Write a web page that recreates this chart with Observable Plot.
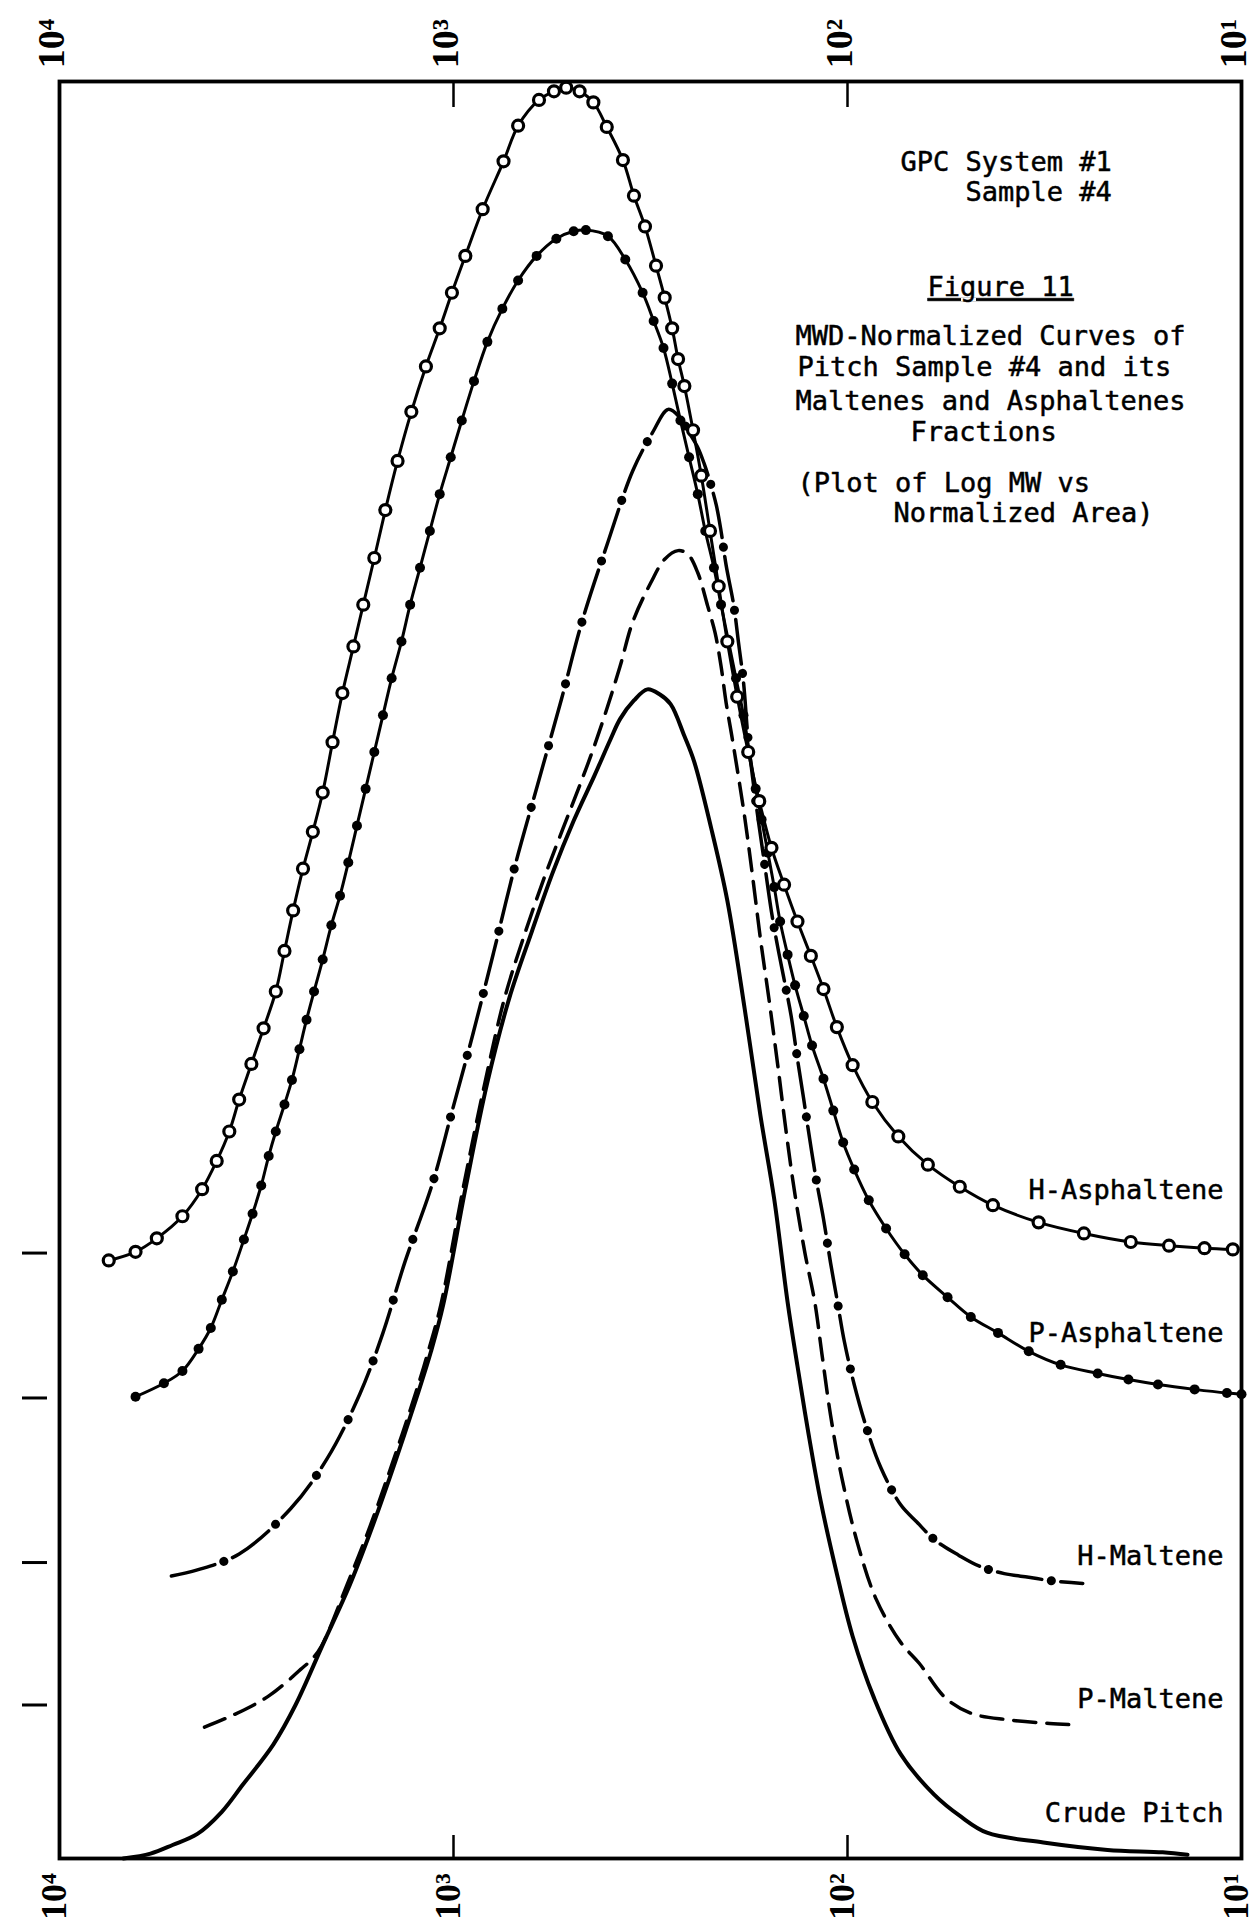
<!DOCTYPE html>
<html>
<head>
<meta charset="utf-8">
<script src="https://cdn.jsdelivr.net/npm/d3@7"></script>
<script src="https://cdn.jsdelivr.net/npm/@observablehq/plot@0.6"></script>
<style>
  html, body { margin: 0; padding: 0; background: #fff; }
</style>
</head>
<body>
<div id="chart"></div>
<script>
// ---- tick values / labels ----
const decades = [1e4, 1e3, 1e2, 1e1];
const decadeLabels = ["10\u2074", "10\u00b3", "10\u00b2", "10\u00b9"];
const innerTicks = [1e3, 1e2];

// ---- series (log10 MW, stacked normalized area) ----
const hAsphLogMW = [3.875,3.807,3.753,3.688,3.638,3.601,3.569,3.544,3.513,3.482,
  3.451,3.429,3.407,3.382,3.357,3.332,3.307,3.282,3.254,3.229,
  3.201,3.173,3.142,3.107,3.070,3.035,3.004,2.970,2.926,2.873,
  2.836,2.783,2.745,2.714,2.680,2.645,2.611,2.570,2.542,2.514,
  2.486,2.464,2.445,2.430,2.414,2.392,2.371,2.349,2.327,2.305,
  2.280,2.252,2.224,2.193,2.161,2.127,2.093,2.061,2.027,1.987,
  1.937,1.871,1.796,1.715,1.631,1.515,1.400,1.281,1.184,1.094,1.022];
const hAsphArea = [48.7,49.4,50.5,52.3,54.5,56.8,59.2,61.8,64.7,67.6,
  70.6,73.9,77.2,80.6,83.6,86.8,90.9,94.9,98.7,102.1,
  105.9,109.8,113.8,117.8,121.5,124.6,127.5,130.5,134.3,138.2,
  141.1,143.2,143.9,144.2,143.9,143.0,141.0,138.3,135.4,132.9,
  129.7,127.1,124.6,122.1,119.9,116.3,112.6,108.1,103.6,99.1,
  94.6,90.1,86.1,82.3,79.3,76.3,73.5,70.8,67.7,64.6,
  61.6,58.8,56.5,54.7,53.2,51.8,50.9,50.2,49.9,49.7,49.6];

const pAsphLogMW = [3.807,3.735,3.688,
  3.647,3.616,3.588,3.560,3.532,3.510,3.488,3.469,3.451,3.429,
  3.410,3.391,3.373,3.354,3.332,3.310,3.288,3.267,3.245,3.223,
  3.201,3.179,3.157,3.132,3.110,3.085,3.060,3.035,3.007,2.979,
  2.948,2.914,2.876,2.836,2.789,2.739,2.695,2.664,
  2.608,2.564,2.520,2.492,2.467,2.445,2.424,2.402,2.380,2.361,
  2.339,2.321,2.302,2.283,2.264,2.249,2.233,2.218,2.202,2.186,
  2.171,2.152,2.133,2.111,2.090,2.061,2.036,2.011,1.983,1.946,
  1.902,1.855,1.809,1.746,1.687,1.618,1.540,1.459,1.365,1.287,
  1.212,1.119,1.037,1.000];
const pAsphArea = [37.6,38.7,39.7,
  41.5,43.2,45.5,47.8,50.4,52.5,54.8,57.2,59.2,61.4,
  63.4,65.9,68.3,70.6,73.2,76.0,78.4,81.1,84.1,87.1,
  90.1,93.1,96.1,99.1,102.1,105.1,108.1,111.1,114.1,117.1,
  120.3,123.5,126.2,128.5,130.5,131.9,132.5,132.6,
  132.1,130.2,127.5,125.2,123.0,120.1,117.1,114.1,111.1,108.1,
  105.1,102.1,99.1,96.1,93.1,90.1,87.1,84.6,81.9,79.1,
  76.3,73.6,71.1,68.6,66.2,63.5,60.9,58.3,56.1,53.6,
  51.3,49.2,47.5,45.7,44.1,42.8,41.3,40.2,39.5,39.0,
  38.6,38.2,37.9,37.8];

const hMalLogMW = [3.716,3.650,3.544,3.413,3.320,3.238,3.179,3.123,3.054,3.004,
  2.951,2.898,2.845,2.786,2.726,2.673,2.608,2.545,2.495,2.455,
  2.427,2.402,2.380,2.364,2.349,2.333,2.321,2.308,2.289,2.277,
  2.264,2.252,2.233,2.211,2.193,2.177,2.161,2.143,2.127,2.111,
  2.096,2.080,2.061,2.043,2.027,2.008,1.983,1.952,1.915,1.865,
  1.824,1.777,1.718,1.665,1.602,1.540,1.478,1.403];
const hMalArea = [23.0,23.5,24.8,28.5,32.6,37.8,42.8,48.6,54.9,60.8,
  67.1,73.8,80.7,87.5,94.4,100.8,107.2,113.0,116.1,118.0,
  117.4,116.1,114.9,113.6,112.1,110.2,108.1,105.3,102.1,99.1,
  95.8,91.1,86.1,81.1,77.1,74.2,71.6,68.6,65.1,61.8,
  58.6,55.4,52.1,48.5,45.6,42.1,38.6,35.1,31.8,28.8,
  27.4,25.9,24.7,23.8,23.2,22.9,22.6,22.4];

const pMalLogMW = [3.632,3.579,3.513,3.466,3.419,3.388,3.360,3.335,3.270,3.210,
  3.154,3.095,3.064,3.032,2.976,2.920,2.870,2.817,2.767,2.723,
  2.683,2.648,2.614,2.577,2.545,2.499,2.464,2.430,2.405,
  2.380,2.355,2.336,2.321,2.308,2.292,2.261,2.239,2.221,2.199,
  2.177,2.155,2.133,2.108,2.083,2.065,2.043,2.015,1.974,1.927,
  1.865,1.818,1.752,1.684,1.593,1.487,1.434];
const pMalArea = [10.7,11.4,12.4,13.3,14.5,15.4,16.2,17.3,22.3,27.2,
  32.3,38.0,41.3,45.1,54.5,63.2,70.1,75.5,80.1,83.8,
  87.1,90.1,93.3,97.1,100.7,103.9,105.8,106.5,106.2,
  104.7,102.0,99.8,97.1,94.1,91.1,84.8,79.5,74.9,69.9,
  64.6,59.0,54.0,49.3,45.3,41.1,36.1,31.1,25.6,21.1,
  17.6,15.9,13.1,11.8,11.3,11.0,10.9];

const crudeLogMW = [3.838,3.769,3.713,3.650,3.588,3.535,3.457,3.401,3.332,3.263,
  3.204,3.148,3.089,3.057,3.026,2.970,2.914,2.858,2.801,2.748,
  2.695,2.642,2.602,2.577,2.542,2.508,2.477,2.449,2.414,2.389,
  2.346,2.305,2.261,2.221,2.186,2.152,2.127,2.099,2.068,2.030,
  1.987,1.933,1.865,1.780,1.712,1.646,1.503,1.340,1.200,1.137];
const crudeArea = [0.0,0.4,1.1,2.0,3.8,6.0,9.3,12.5,17.4,22.3,
  27.2,32.3,38.0,41.3,45.1,54.5,63.2,70.1,75.5,80.3,
  84.5,88.2,91.1,92.8,94.3,95.2,94.8,94.0,91.4,89.3,
  83.9,78.0,69.2,60.5,53.7,45.3,40.1,34.6,29.1,23.6,
  18.1,13.1,8.5,5.2,3.4,2.1,1.3,0.7,0.5,0.3];

// baselines (offsets) of the stacked curves, marked on the left edge
const baselines = [49.3, 37.5, 24.1, 12.5];

const seriesNames = ["H-Asphaltene", "P-Asphaltene", "H-Maltene", "P-Maltene", "Crude Pitch"];
const noteLines = ["GPC System #1", "Sample #4", "Figure 11",
  "MWD-Normalized Curves of", "Pitch Sample #4 and its", "Maltenes and Asphaltenes",
  "Fractions", "(Plot of Log MW vs", "Normalized Area)"];

// ---- build tables ----
function table(xs, ys) { return xs.map((v, i) => ({mw: Math.pow(10, v), area: ys[i]})); }
const hAsph = table(hAsphLogMW, hAsphArea);
const pAsph = table(pAsphLogMW, pAsphArea);
const hMal = table(hMalLogMW, hMalArea);
const pMal = table(pMalLogMW, pMalArea);
const crude = table(crudeLogMW, crudeArea);

// ---- layout (pixels) ----
const W = 1256, H = 1927;
const mL = 59, mR = 15, mT = 81, mB = 69;
const yMax = 144.7;
const mono = "DejaVu Sans Mono, Liberation Mono, monospace";
const serif = "Liberation Serif, DejaVu Serif, serif";
const notePos = [[900,151.5],[965,181.5],[927,276.5],[795,325.5],[797,356.5],[795,390.5],[910,421.5],[797,472.5],[893,502.5]];
const labelCenters = [1179.5, 1322.5, 1545.5, 1688.5, 1802.5];
const pxPerY = (H - mT - mB) / yMax;
const textStyle = {fontSize: 27, fontFamily: mono, fill: "#000", stroke: "#000", strokeWidth: 0.5};

const marks = [
  // curves
  Plot.line(crude, {x: "mw", y: "area", curve: "catmull-rom", stroke: "#000", strokeWidth: 4}),
  Plot.line(pMal, {x: "mw", y: "area", curve: "catmull-rom", stroke: "#000", strokeWidth: 3.5, strokeDasharray: "22,11"}),
  Plot.line(hMal, {x: "mw", y: "area", curve: "catmull-rom", stroke: "#000", strokeWidth: 3.5, strokeDasharray: "45,19"}),
  Plot.line(hMal, {x: "mw", y: "area", curve: "catmull-rom", stroke: "#000", strokeWidth: 9, strokeLinecap: "round", strokeDasharray: "0.1,63.9", strokeDashoffset: -54.5}),
  Plot.line(pAsph, {x: "mw", y: "area", curve: "catmull-rom", stroke: "#000", strokeWidth: 3}),
  Plot.dot(pAsph, {x: "mw", y: "area", r: 5, fill: "#000", stroke: "none"}),
  Plot.line(hAsph, {x: "mw", y: "area", curve: "catmull-rom", stroke: "#000", strokeWidth: 3}),
  Plot.dot(hAsph, {x: "mw", y: "area", r: 5.5, fill: "#fff", stroke: "#000", strokeWidth: 3.2}),
  // frame and inner ticks
  Plot.frame({stroke: "#000", strokeWidth: 3.8}),
  Plot.ruleX(innerTicks, {x: d => d, y1: yMax, y2: yMax - 26 / pxPerY, stroke: "#000", strokeWidth: 2.5}),
  Plot.ruleX(innerTicks, {x: d => d, y1: 0, y2: 23 / pxPerY, stroke: "#000", strokeWidth: 2.5}),
  // baseline marks outside the left edge
  Plot.ruleY(baselines, {y: d => d, x1: Math.pow(10, 4 + 37 / 394), x2: Math.pow(10, 4 + 12 / 394), stroke: "#000", strokeWidth: 3}),
  // tick labels, top and bottom
  Plot.text(decades, {x: d => d, text: (d, i) => decadeLabels[i], frameAnchor: "top", lineAnchor: "middle", dx: -8, dy: -38, rotate: -90,
    fontSize: 38, fontWeight: "bold", fontFamily: serif, fill: "#000"}),
  Plot.text(decades, {x: d => d, text: (d, i) => decadeLabels[i], frameAnchor: "bottom", lineAnchor: "middle", dx: -5, dy: 38, rotate: -90,
    fontSize: 36, fontWeight: "bold", fontFamily: serif, fill: "#000"}),
  // series labels
  ...seriesNames.map((s, i) => Plot.text([s], {text: d => d, frameAnchor: "top-right", textAnchor: "end",
    dx: 1223 - (W - mR), dy: labelCenters[i] - mT, ...textStyle})),
  // notes block
  ...noteLines.map((s, i) => Plot.text([s], {text: d => d, frameAnchor: "top-left", textAnchor: "start",
    dx: notePos[i][0] - mL, dy: notePos[i][1] - mT, ...textStyle}))
];

const chart = Plot.plot({
  width: W, height: H,
  marginLeft: mL, marginRight: mR, marginTop: mT, marginBottom: mB,
  x: {type: "log", domain: [1e4, 1e1], axis: null},
  y: {domain: [0, yMax], axis: null},
  style: {background: "#fff", overflow: "visible"},
  marks
});

chart.querySelectorAll("text").forEach(t => {
  if (t.textContent === "Figure 11") t.setAttribute("text-decoration", "underline");
});
document.getElementById("chart").appendChild(chart);
</script>
</body>
</html>
